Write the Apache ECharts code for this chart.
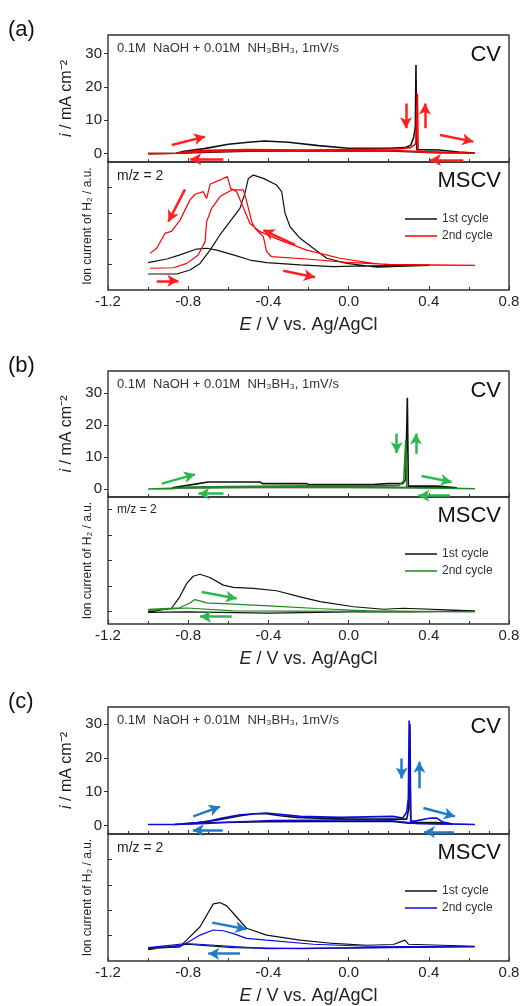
<!DOCTYPE html>
<html>
<head>
<meta charset="utf-8">
<script src="https://cdn.jsdelivr.net/npm/echarts@6/dist/echarts.min.js"></script>
<style>
html,body{margin:0;padding:0;background:#fff}
#chart{width:528px;height:1006px}
</style>
</head>
<body>
<div id="chart"></div>
<script>
// x ticks / labels
var xLabelTicks = [-1.2, -0.8, -0.4, 0, 0.4, 0.8];
var cvTicks = [0, 10, 20, 30];
var msTicksAC = [1, 2, 3, 4];
var msTicksB = [0, 1, 2, 3, 4];

// (a) CV, black = 1st cycle, red = 2nd cycle
var cvA1 = [[-1.0,0.0],[-0.86,0.1],[-0.82,0.7],[-0.72,1.5],[-0.6,2.8],[-0.5,3.4],[-0.42,3.8],[-0.3,3.4],[-0.15,2.4],[0.0,1.6],[0.2,1.6],[0.28,1.8],[0.31,2.5],[0.325,5],[0.333,8],[0.336,26.5],[0.34,1.2],[0.45,1.1],[0.55,0.5],[0.63,0.2],[0.45,0.3],[0.2,0.8],[-0.2,0.9],[-0.5,0.7],[-0.7,0.4],[-0.85,0.1]];
var cvA2 = [[-1.0,0.0],[-0.85,0.1],[-0.8,0.6],[-0.7,1.0],[-0.5,1.2],[-0.2,1.1],[0.1,1.3],[0.25,1.4],[0.31,1.8],[0.335,3],[0.343,18],[0.347,0.4],[0.5,0.3],[0.63,0.1],[0.45,0.5],[0.2,0.9],[-0.2,0.8],[-0.5,0.9],[-0.75,0.5],[-0.85,0.1]];
// (a) MSCV
var msA1 = [[-1.0,1.07],[-0.907,1.21],[-0.841,1.37],[-0.758,1.60],[-0.708,1.63],[-0.658,1.56],[-0.575,1.37],[-0.492,1.17],[-0.409,1.07],[-0.242,0.98],[-0.076,0.91],[0.09,0.94],[0.40,0.96],[0.14,0.89],[-0.009,1.04],[-0.109,1.24],[-0.176,1.63],[-0.242,2.02],[-0.292,2.47],[-0.317,3.0],[-0.334,3.84],[-0.359,4.10],[-0.425,4.36],[-0.475,4.49],[-0.5,4.36],[-0.517,3.78],[-0.542,3.19],[-0.592,2.67],[-0.642,2.15],[-0.691,1.56],[-0.741,1.04],[-0.791,0.78],[-0.857,0.625],[-1.0,0.625]];
var msA2 = [[-0.99,0.85],[-0.874,0.87],[-0.807,1.04],[-0.75,1.37],[-0.716,1.89],[-0.708,2.67],[-0.683,3.19],[-0.641,3.65],[-0.583,3.91],[-0.525,3.91],[-0.508,3.45],[-0.483,2.67],[-0.467,2.41],[-0.425,2.08],[-0.409,1.50],[-0.384,1.30],[-0.209,1.21],[-0.009,1.08],[0.2,1.0],[0.63,0.96],[0.206,0.98],[0.123,1.04],[-0.043,1.24],[-0.209,1.56],[-0.342,1.95],[-0.442,2.28],[-0.492,2.60],[-0.558,3.84],[-0.588,3.97],[-0.605,4.43],[-0.641,4.30],[-0.691,4.13],[-0.708,3.58],[-0.725,3.84],[-0.766,3.74],[-0.791,3.52],[-0.841,2.73],[-0.882,2.30],[-0.916,2.21],[-0.957,1.63],[-0.99,1.43]];

// (b) CV, black / green
var cvB1 = [[-0.88,0.4],[-0.75,1.7],[-0.7,2.2],[-0.44,2.2],[-0.43,1.7],[-0.21,1.7],[-0.2,1.4],[0.12,1.4],[0.2,1.7],[0.27,1.7],[0.285,3],[0.293,28.6],[0.298,0.9],[0.44,0.9],[0.54,0.4],[0.3,0.5],[-0.2,0.6],[-0.6,0.5],[-0.88,0.4]];
var cvB2 = [[-1.0,0.0],[-0.88,0.1],[-0.8,0.6],[-0.6,0.8],[-0.2,1.0],[0.1,1.0],[0.25,1.1],[0.275,2.5],[0.285,15.5],[0.29,0.4],[0.45,0.3],[0.63,0.1],[0.4,0.3],[0.0,0.6],[-0.5,0.6],[-0.85,0.3],[-1.0,0.0]];
// (b) MSCV
var msB1 = [[-1.0,-0.02],[-0.884,0.11],[-0.842,0.57],[-0.808,1.09],[-0.775,1.38],[-0.742,1.46],[-0.692,1.33],[-0.625,1.03],[-0.575,0.94],[-0.475,0.9],[-0.359,0.81],[-0.242,0.57],[-0.142,0.38],[0.025,0.18],[0.175,0.08],[0.275,0.12],[0.63,0.02],[0.3,-0.02],[0.0,-0.02],[-0.4,-0.07],[-0.8,-0.02],[-1.0,-0.04]];
var msB2 = [[-1.0,0.08],[-0.842,0.14],[-0.792,0.33],[-0.767,0.46],[-0.742,0.41],[-0.708,0.33],[-0.575,0.28],[-0.376,0.2],[-0.159,0.11],[0.09,0.02],[0.63,-0.02],[0.0,0.0],[-0.575,0.02],[-0.808,0.13],[-1.0,0.04]];

// (c) CV, black / blue
var cvC1 = [[-0.87,0.3],[-0.76,0.8],[-0.66,1.6],[-0.54,2.9],[-0.47,3.5],[-0.41,3.5],[-0.34,2.9],[-0.26,2.4],[-0.01,1.9],[0.22,1.9],[0.29,1.9],[0.3,5],[0.306,30],[0.31,0.9],[0.44,0.9],[0.52,0.5],[0.3,0.7],[0.21,1.3],[-0.41,1.1],[-0.7,0.8],[-0.87,0.3]];
var cvC2 = [[-1.0,0.3],[-0.87,0.3],[-0.76,0.8],[-0.71,1.1],[-0.63,2.2],[-0.54,3.2],[-0.41,3.7],[-0.24,2.7],[-0.04,2.4],[0.22,2.7],[0.27,2.2],[0.29,4],[0.298,8],[0.302,31],[0.31,1.3],[0.33,1.3],[0.41,2.2],[0.44,2.2],[0.47,1.0],[0.51,0.5],[0.63,0.3],[0.34,0.6],[0.17,1.7],[-0.38,1.5],[-0.63,0.9],[-0.71,0.6],[-0.87,0.3]];
// (c) MSCV
var msC1 = [[-1.0,0.49],[-0.842,0.56],[-0.808,0.82],[-0.741,1.35],[-0.675,2.25],[-0.642,2.30],[-0.608,2.17],[-0.575,1.88],[-0.509,1.29],[-0.409,1.02],[-0.242,0.82],[-0.076,0.69],[0.09,0.62],[0.223,0.65],[0.281,0.82],[0.298,0.66],[0.63,0.58],[0.3,0.55],[-0.242,0.49],[-0.575,0.53],[-0.808,0.66],[-1.0,0.45]];
var msC2 = [[-1.0,0.53],[-0.842,0.56],[-0.791,0.79],[-0.741,1.02],[-0.675,1.22],[-0.625,1.19],[-0.575,1.08],[-0.509,0.89],[-0.409,0.82],[-0.176,0.66],[0.09,0.58],[0.63,0.56],[-0.409,0.49],[-0.808,0.69],[-1.0,0.53]];

// scan direction arrows [x1,y1,x2,y2]
var arrA_cv = [[-0.882,2.6,-0.716,5.1],[-0.625,-1.7,-0.79,-1.7],[0.286,15,0.286,7.6],[0.381,7.6,0.381,15],[0.456,5.6,0.622,3.6],[0.572,-1.9,0.406,-1.9]];
var arrA_ms = [[-0.816,3.93,-0.899,2.67],[-0.957,0.36,-0.849,0.36],[-0.267,1.76,-0.425,2.34],[-0.326,0.75,-0.168,0.5]];
var arrB_cv = [[-0.932,1.7,-0.766,4.6],[-0.624,-1.45,-0.749,-1.45],[0.24,17.4,0.24,11.3],[0.336,11.0,0.336,17.4],[0.364,4.1,0.514,2.2],[0.506,-2.1,0.348,-2.1]];
var arrB_ms = [[-0.733,0.76,-0.558,0.5],[-0.583,-0.21,-0.741,-0.21]];
var arrC_cv = [[-0.775,2.7,-0.641,5.6],[-0.628,-1.4,-0.777,-1.4],[0.265,19.8,0.265,13.9],[0.353,11,0.353,18.8],[0.373,5.2,0.531,2.7],[0.526,-1.9,0.376,-1.9]];
var arrC_ms = [[-0.68,1.51,-0.51,1.25],[-0.542,0.29,-0.70,0.29]];

var panels = [
  {id:'a', cv:[cvA1,cvA2], ms:[msA1,msA2], line:'#ff0000', arrow:'#ff2020', arrCv:arrA_cv, arrMs:arrA_ms, cvMax:35.5, msMin:0, msMax:5, msTicks:msTicksAC, cvMinor:2},
  {id:'b', cv:[cvB1,cvB2], ms:[msB1,msB2], line:'#1c8a1c', arrow:'#2db84e', arrCv:arrB_cv, arrMs:arrB_ms, cvMax:37, msMin:-0.5, msMax:4.5, msTicks:msTicksB, cvMinor:2},
  {id:'c', cv:[cvC1,cvC2], ms:[msC1,msC2], line:'#0a0ae6', arrow:'#1f7cc4', arrCv:arrC_cv, arrMs:arrC_ms, cvMax:35, msMin:0, msMax:5, msTicks:msTicksAC, cvMinor:4}
];
// layout: [cvTop, cvHeight, msTop, msHeight]
var layout = [[35,127,162,128],[371,126,497,127],[707,127,834,127]];

var FONT = 'Liberation Sans, Arial, sans-serif';
var grid = [], xAxis = [], yAxis = [], series = [], legend = [], graphic = [];

function arrowMark(arr, color) {
  return {
    silent: true, symbol: ['none','arrow'], symbolSize: [9,11],
    label: {show:false}, emphasis: {disabled:true},
    lineStyle: {color: color, width: 2.5, type: 'solid'},
    data: arr.map(function(a){ return [{coord:[a[0],a[1]]},{coord:[a[2],a[3]]}]; })
  };
}

panels.forEach(function(p, i){
  var L = layout[i];
  var gCv = i*2, gMs = i*2+1;
  grid.push({left:108, width:401, top:L[0], height:L[1], show:true, borderColor:'#333', borderWidth:1.4});
  grid.push({left:108, width:401, top:L[2], height:L[3], show:true, borderColor:'#333', borderWidth:1.4});

  xAxis.push({type:'value', gridIndex:gCv, min:-1.2, max:0.8, interval:0.4,
    axisLine:{show:false, onZero:false}, splitLine:{show:false},
    axisTick:{inside:true, length:4, lineStyle:{color:'#333'}},
    minorTick:{show:true, splitNumber:p.cvMinor, length:3, lineStyle:{color:'#333'}},
    axisLabel:{show:false}});
  xAxis.push({type:'value', gridIndex:gMs, min:-1.2, max:0.8, interval:0.4,
    axisLine:{show:false, onZero:false}, splitLine:{show:false},
    axisTick:{inside:true, length:4, lineStyle:{color:'#333'}},
    minorTick:{show:true, splitNumber:2, length:3, lineStyle:{color:'#333'}},
    axisLabel:{margin:4, fontSize:15, color:'#222', fontFamily:FONT,
      customValues:xLabelTicks, formatter:function(v){ return v.toFixed(1); }},
    name:'{it|E} / V vs. Ag/AgCl', nameLocation:'middle', nameGap:26,
    nameTextStyle:{fontSize:18, color:'#222', fontFamily:FONT,
      rich:{it:{fontStyle:'italic', fontSize:18, color:'#222', fontFamily:FONT}}}});

  yAxis.push({type:'value', gridIndex:gCv, min:-2.5, max:p.cvMax,
    axisLine:{show:false, onZero:false}, splitLine:{show:false},
    axisTick:{inside:false, length:4, customValues:cvTicks, lineStyle:{color:'#333'}},
    axisLabel:{margin:6, fontSize:15, color:'#222', fontFamily:FONT, customValues:cvTicks},
    name:'{it|i} / mA cm\u207B\u00B2', nameLocation:'middle', nameGap:30,
    nameTextStyle:{fontSize:16, color:'#222', fontFamily:FONT,
      rich:{it:{fontStyle:'italic', fontSize:16, color:'#222', fontFamily:FONT}}}});
  yAxis.push({type:'value', gridIndex:gMs, min:p.msMin, max:p.msMax,
    axisLine:{show:false, onZero:false}, splitLine:{show:false},
    axisTick:{inside:true, length:4, customValues:p.msTicks, lineStyle:{color:'#333'}},
    axisLabel:{show:false},
    name:'Ion current of H\u2082 / a.u.', nameLocation:'middle', nameGap:14,
    nameTextStyle:{fontSize:12, color:'#222', fontFamily:FONT}});

  var colors = ['#111111', p.line];
  [0,1].forEach(function(k){
    series.push({type:'line', name:p.id+(k+1)+'cv', xAxisIndex:gCv, yAxisIndex:gCv,
      data:p.cv[k], symbol:'none', lineStyle:{width:1.6, color:colors[k]}, itemStyle:{color:colors[k]},
      markLine: k===1 ? arrowMark(p.arrCv, p.arrow) : undefined});
  });
  [0,1].forEach(function(k){
    series.push({type:'line', name:p.id+(k+1), xAxisIndex:gMs, yAxisIndex:gMs,
      data:p.ms[k], symbol:'none', lineStyle:{width:1.2, color:colors[k]}, itemStyle:{color:colors[k]},
      markLine: k===1 ? arrowMark(p.arrMs, p.arrow) : undefined});
  });

  legend.push({orient:'vertical', left:405, top:L[2]+51, itemWidth:32, itemHeight:1.5, itemGap:5,
    icon:'rect', padding:0, selectedMode:false, data:[p.id+'1', p.id+'2'],
    formatter:function(n){ return n.charAt(1)==='1' ? '1st cycle' : '2nd cycle'; },
    textStyle:{fontSize:12, color:'#333', fontFamily:FONT}});

  graphic.push({type:'text', left:8, top:L[0]-16, style:{text:'('+p.id+')', font:'22px '+FONT, fill:'#111'}});
  graphic.push({type:'text', left:117, top:L[0]+7, style:{text:'0.1M  NaOH + 0.01M  NH\u2083BH\u2083, 1mV/s', font:'13px '+FONT, fill:'#333'}});
  graphic.push({type:'text', right:528-501, top:L[0]+9, style:{text:'CV', font:'22px '+FONT, fill:'#111'}});
  graphic.push({type:'text', right:528-501, top:L[2]+8, style:{text:'MSCV', font:'22px '+FONT, fill:'#111'}});
  graphic.push({type:'text', left:117, top:L[2]+7, style:{text:'m/z = 2', font:(i===1?'12px ':'14px ')+FONT, fill:'#222'}});
});

var chart = echarts.init(document.getElementById('chart'));
chart.setOption({
  animation:false,
  backgroundColor:'#fff',
  grid:grid, xAxis:xAxis, yAxis:yAxis, series:series, legend:legend, graphic:graphic
});
</script>
</body>
</html>
